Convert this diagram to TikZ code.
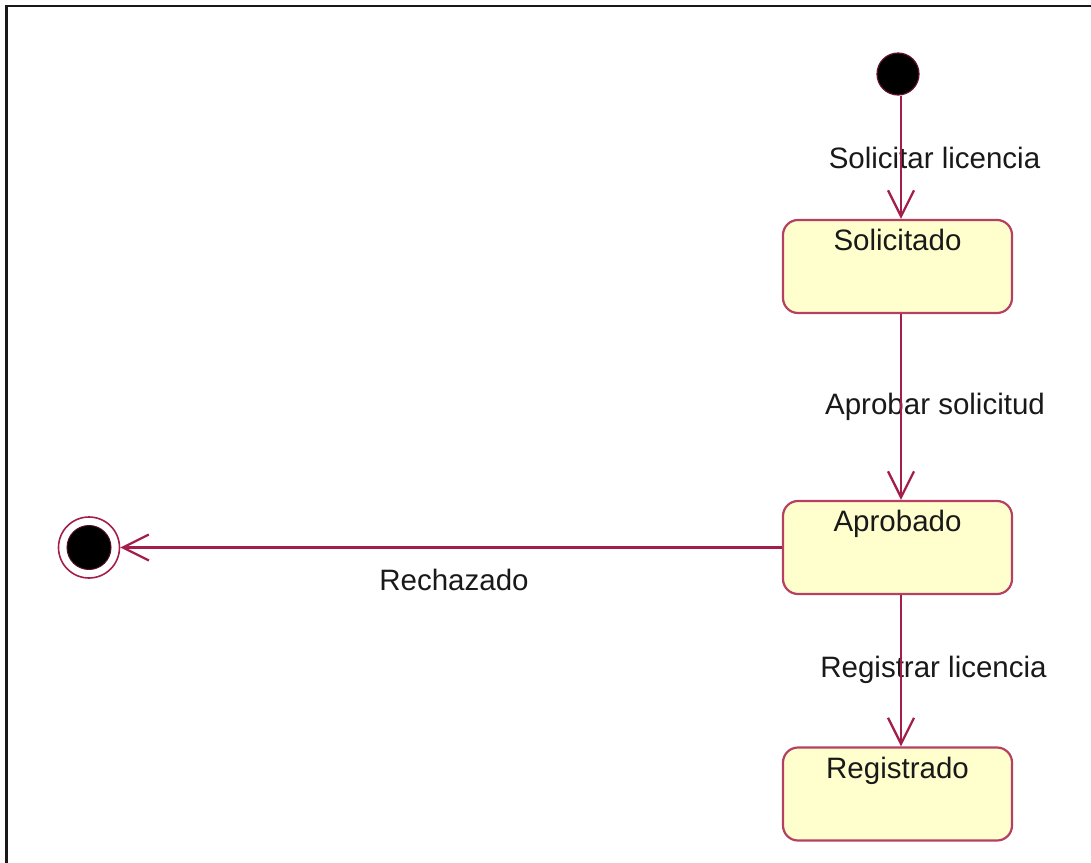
\documentclass[tikz,border=0pt]{standalone}
\usepackage{fontspec}
\setmainfont{Liberation Sans}
\usetikzlibrary{arrows.meta}
\definecolor{trc}{RGB}{163,30,75}
\definecolor{boxc}{RGB}{182,64,98}
\definecolor{boxf}{RGB}{255,255,206}
\tikzset{
  lbl/.style={font=\fontsize{29.5}{32}\selectfont, text=black!90, inner sep=0pt},
  statebox/.style={draw=boxc, line width=2.2pt, fill=boxf, rounded corners=15pt,
    inner sep=0pt, text width=229pt, align=center, text height=30.5pt, text depth=62.5pt,
    font=\fontsize{29.5}{32}\selectfont, text=black!90},
  tr/.style={draw=trc, line width=2.3pt, -{Straight Barb[length=26pt,width=26pt]}},
}
\begin{document}
\begin{tikzpicture}[x=1pt,y=-1pt]
\useasboundingbox (0,0) rectangle (1091,862);
% frame
\draw[line width=2.8pt, black!90] (6.5,880) -- (6.5,6) -- (1110,6);
% nodes
\node[circle, fill=black, draw=trc!60!black, line width=1.2pt, minimum size=42pt, inner sep=0pt] (init) at (898,74) {};
\node[statebox] (S1) at (897.5,266.5) {Solicitado};
\node[statebox] (S2) at (897.5,547.5) {Aprobado};
\node[statebox] (S3) at (897.5,794) {Registrado};
\node[circle, draw=trc, line width=1.6pt, minimum size=61pt, inner sep=0pt] (final) at (89,547.5) {};
\node[circle, fill=black, draw=trc!50!black, line width=1pt, minimum size=44pt, inner sep=0pt] (finalin) at (final) {};
% labels
\node[lbl] (l1) at (934.5,158) {Solicitar licencia};
\node[lbl] (l2) at (935,407) {Aprobar solicitud};
\node[lbl] (l3) at (933.5,670) {Registrar licencia};
\node[lbl] (l4) at (454,580) {Rechazado};
% transitions
\draw[tr] ([xshift=3pt]init.south) -- ([xshift=3.5pt]S1.north);
\draw[tr] ([xshift=3.5pt]S1.south) -- ([xshift=3.5pt]S2.north);
\draw[tr] ([xshift=3.5pt]S2.south) -- ([xshift=3.5pt]S3.north);
\draw[tr] (S2.west) -- (final);
\end{tikzpicture}
\end{document}
